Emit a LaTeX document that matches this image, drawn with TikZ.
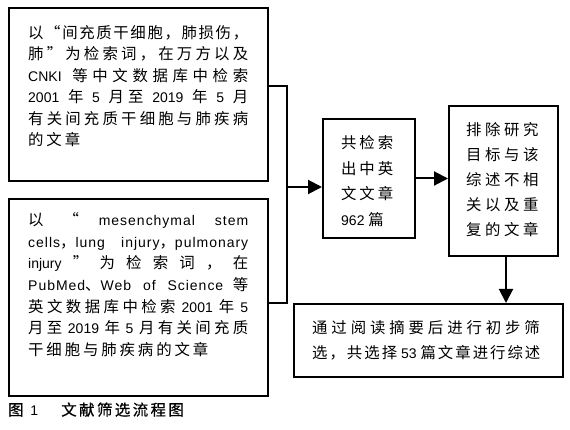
\documentclass[tikz,border=0pt]{standalone}
\usepackage{fontspec}
\setmainfont{Liberation Sans}
\newfontfamily\latls[LetterSpace=7]{Liberation Sans}
\newfontfamily\cjn[Scale=1.1]{Noto Sans CJK SC}
\newfontfamily\cj[Scale=1.1,LetterSpace=18.8]{Noto Sans CJK SC}
\newfontfamily\cjw[Scale=1.1,LetterSpace=23.4]{Noto Sans CJK SC}
\newfontfamily\cjv[Scale=1.1,LetterSpace=25.3]{Noto Sans CJK SC}
\newfontfamily\cjb[Scale=1.1,LetterSpace=13]{Noto Sans CJK SC}
\newfontfamily\cjc[Scale=1.1,LetterSpace=16,FakeBold=0.6]{Noto Sans CJK SC}
\usetikzlibrary{arrows.meta}
\newcommand\bodyset[1]{\fontsize{14}{#1}\selectfont\tolerance=10000\hbadness=10000\parindent=0pt}
\newcommand\gridset{\XeTeXlinebreaklocale "zh"\XeTeXlinebreakskip=2.9pt plus 0.5pt minus 2pt\relax}
\newcommand\gridoff{\par\XeTeXlinebreaklocale ""\relax}
% spread a run of characters evenly over a full line
\def\sprfirst#1{#1\sprnext}
\def\sprnext#1{\ifx\relax#1\else\hfil#1\expandafter\sprnext\fi}
\newcommand\fullline[1]{\leavevmode\hbox to \linewidth{\cjn\sprfirst#1\relax}}
\tikzset{
  box/.style={draw, line width=2pt, rectangle, inner sep=0pt, anchor=north west},
  txt/.style={inner sep=0pt, anchor=base west},
  link/.style={line width=2pt},
  arr/.style={line width=2pt, -{Triangle[length=14pt,width=14pt]}},
}
\begin{document}
\begin{tikzpicture}[x=1pt,y=-1pt]
\useasboundingbox (0,0) rectangle (570,430);
% boxes
\node[box, minimum width=259pt, minimum height=173pt] (box1) at (8,7) {};
\node[box, minimum width=259pt, minimum height=197pt] (box2) at (8,198) {};
\node[box, minimum width=92pt, minimum height=119pt] (box3) at (322,118) {};
\node[box, minimum width=109pt, minimum height=150pt] (box4) at (448,105) {};
\node[box, minimum width=269pt, minimum height=73pt] (box5) at (293,303) {};
% texts (box 3, 4, 5 and caption first, before the line-break locale is used)
\node[txt] (t3) at (341,148.8) {\begin{minipage}[t]{70pt}\bodyset{25.5}%
{\cj 共检索}\\{\cj 出中英}\\{\cj 文文章}\\962 {\cj 篇}\end{minipage}};
\node[txt] (t4) at (466,135.5) {\begin{minipage}[t]{85pt}\bodyset{25}%
{\cjw 排除研究}\\{\cjw 目标与该}\\{\cjw 综述不相}\\{\cjw 关以及重}\\{\cjw 复的文章}\end{minipage}};
\node[txt] (t5) at (312,333.5) {\begin{minipage}[t]{232pt}\bodyset{25}%
{\cjv 通过阅读摘要后进行初步筛}\linebreak{\cjb 选，共选择} 53 {\cjb 篇文章进行综述}\end{minipage}};
\node[txt, font=\fontsize{14}{17}\selectfont] (cap) at (8,415.5) {{\cjc 图}\hspace{3pt} 1\hspace{23pt}{\cjc 文献筛选流程图}};
\node[txt] (t1) at (28,38.5) {\begin{minipage}[t]{220pt}\bodyset{21.5}\gridset
\fullline{以“间充质干细胞，肺损伤，}\linebreak\fullline{肺”为检索词，在万方以及}\linebreak CNKI {\cjn 等中文数据库中检索}\linebreak 2001 {\cjn 年} 5 {\cjn 月至} 2019 {\cjn 年} 5 {\cjn 月}\linebreak\fullline{有关间充质干细胞与肺疾病}\linebreak{\cjn 的文章}\gridoff\end{minipage}};
\node[txt] (t2) at (28,225.5) {\begin{minipage}[t]{220pt}\bodyset{21.7}\gridset
{\cjn 以}\hfill{\cjn “}\hfill{\latls mesenchymal}\hfill{\latls stem}\linebreak{\latls cells}{\cjn ，}{\latls lung injury}{\cjn ，}{\latls pulmonary}\linebreak injury\hfill{\cjn ”}\hfill{\cjn 为}\hfill{\cjn 检}\hfill{\cjn 索}\hfill{\cjn 词}\hfill{\cjn ，}\hfill{\cjn 在}\linebreak{\latls PubMed}{\cjn 、}{\latls Web of Science} {\cjn 等}\linebreak{\cjn 英文数据库中检索} 2001 {\cjn 年} 5\linebreak{\cjn 月至} 2019 {\cjn 年} 5 {\cjn 月有关间充质}\linebreak{\cjn 干细胞与肺疾病的文章}\gridoff\end{minipage}};
% connectors
\coordinate (jt) at (287,86);
\coordinate (jb) at (287,303);
\coordinate (jm) at (287,187);
\coordinate (jd) at (506,280);
\draw[link] (box1.east |- jt) -- (jt) -- (jb) -- (box2.east |- jb);
\draw[arr] (jm) -- (box3.west |- jm);
\draw[arr] (box3.east) -- (box3.east -| box4.west);
\draw[arr] (box4.south -| jd) -- (box5.north -| jd);
\end{tikzpicture}
\end{document}
